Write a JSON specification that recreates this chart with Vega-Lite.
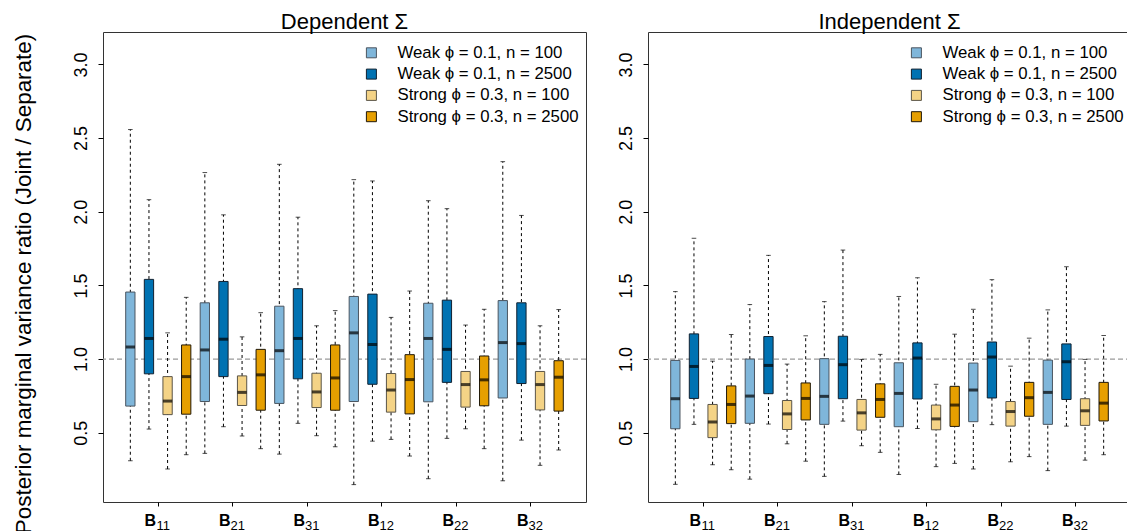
{
"$schema": "https://vega.github.io/schema/vega-lite/v6.json",
"padding": {"left": 11, "top": 10, "right": 0, "bottom": 0},
"spacing": 29,
"datasets": {"d": [
{"panel":"Dependent","grp":"B11","cond":"Weak ϕ = 0.1, n = 100","lo":0.310,"q1":0.681,"med":1.082,"q3":1.455,"hi":2.558},
{"panel":"Dependent","grp":"B11","cond":"Weak ϕ = 0.1, n = 2500","lo":0.525,"q1":0.900,"med":1.140,"q3":1.541,"hi":2.082},
{"panel":"Dependent","grp":"B11","cond":"Strong ϕ = 0.3, n = 100","lo":0.254,"q1":0.623,"med":0.715,"q3":0.881,"hi":1.178},
{"panel":"Dependent","grp":"B11","cond":"Strong ϕ = 0.3, n = 2500","lo":0.351,"q1":0.626,"med":0.881,"q3":1.096,"hi":1.419},
{"panel":"Dependent","grp":"B21","cond":"Weak ϕ = 0.1, n = 100","lo":0.360,"q1":0.712,"med":1.062,"q3":1.382,"hi":2.266},
{"panel":"Dependent","grp":"B21","cond":"Weak ϕ = 0.1, n = 2500","lo":0.541,"q1":0.881,"med":1.135,"q3":1.527,"hi":1.979},
{"panel":"Dependent","grp":"B21","cond":"Strong ϕ = 0.3, n = 100","lo":0.478,"q1":0.685,"med":0.774,"q3":0.886,"hi":1.151},
{"panel":"Dependent","grp":"B21","cond":"Strong ϕ = 0.3, n = 2500","lo":0.392,"q1":0.653,"med":0.893,"q3":1.066,"hi":1.315},
{"panel":"Dependent","grp":"B31","cond":"Weak ϕ = 0.1, n = 100","lo":0.355,"q1":0.699,"med":1.057,"q3":1.359,"hi":2.322},
{"panel":"Dependent","grp":"B31","cond":"Weak ϕ = 0.1, n = 2500","lo":0.564,"q1":0.866,"med":1.140,"q3":1.478,"hi":1.963},
{"panel":"Dependent","grp":"B31","cond":"Strong ϕ = 0.3, n = 100","lo":0.480,"q1":0.671,"med":0.777,"q3":0.904,"hi":1.226},
{"panel":"Dependent","grp":"B31","cond":"Strong ϕ = 0.3, n = 2500","lo":0.405,"q1":0.653,"med":0.872,"q3":1.096,"hi":1.329},
{"panel":"Dependent","grp":"B12","cond":"Weak ϕ = 0.1, n = 100","lo":0.148,"q1":0.712,"med":1.178,"q3":1.425,"hi":2.218},
{"panel":"Dependent","grp":"B12","cond":"Weak ϕ = 0.1, n = 2500","lo":0.443,"q1":0.829,"med":1.099,"q3":1.441,"hi":2.209},
{"panel":"Dependent","grp":"B12","cond":"Strong ϕ = 0.3, n = 100","lo":0.455,"q1":0.640,"med":0.790,"q3":0.902,"hi":1.283},
{"panel":"Dependent","grp":"B12","cond":"Strong ϕ = 0.3, n = 2500","lo":0.342,"q1":0.628,"med":0.861,"q3":1.030,"hi":1.462},
{"panel":"Dependent","grp":"B22","cond":"Weak ϕ = 0.1, n = 100","lo":0.188,"q1":0.710,"med":1.140,"q3":1.379,"hi":2.075},
{"panel":"Dependent","grp":"B22","cond":"Weak ϕ = 0.1, n = 2500","lo":0.462,"q1":0.842,"med":1.066,"q3":1.400,"hi":2.021},
{"panel":"Dependent","grp":"B22","cond":"Strong ϕ = 0.3, n = 100","lo":0.527,"q1":0.674,"med":0.827,"q3":0.916,"hi":1.231},
{"panel":"Dependent","grp":"B22","cond":"Strong ϕ = 0.3, n = 2500","lo":0.392,"q1":0.683,"med":0.859,"q3":1.021,"hi":1.338},
{"panel":"Dependent","grp":"B32","cond":"Weak ϕ = 0.1, n = 100","lo":0.174,"q1":0.736,"med":1.112,"q3":1.397,"hi":2.340},
{"panel":"Dependent","grp":"B32","cond":"Weak ϕ = 0.1, n = 2500","lo":0.450,"q1":0.834,"med":1.105,"q3":1.382,"hi":1.975},
{"panel":"Dependent","grp":"B32","cond":"Strong ϕ = 0.3, n = 100","lo":0.279,"q1":0.655,"med":0.827,"q3":0.916,"hi":1.226},
{"panel":"Dependent","grp":"B32","cond":"Strong ϕ = 0.3, n = 2500","lo":0.383,"q1":0.647,"med":0.877,"q3":0.989,"hi":1.336},
{"panel":"Independent","grp":"B11","cond":"Weak ϕ = 0.1, n = 100","lo":0.150,"q1":0.527,"med":0.731,"q3":0.991,"hi":1.458},
{"panel":"Independent","grp":"B11","cond":"Weak ϕ = 0.1, n = 2500","lo":0.557,"q1":0.733,"med":0.950,"q3":1.171,"hi":1.820},
{"panel":"Independent","grp":"B11","cond":"Strong ϕ = 0.3, n = 100","lo":0.283,"q1":0.467,"med":0.573,"q3":0.692,"hi":0.986},
{"panel":"Independent","grp":"B11","cond":"Strong ϕ = 0.3, n = 2500","lo":0.249,"q1":0.562,"med":0.692,"q3":0.818,"hi":1.167},
{"panel":"Independent","grp":"B21","cond":"Weak ϕ = 0.1, n = 100","lo":0.185,"q1":0.564,"med":0.749,"q3":1.000,"hi":1.370},
{"panel":"Independent","grp":"B21","cond":"Weak ϕ = 0.1, n = 2500","lo":0.559,"q1":0.765,"med":0.957,"q3":1.153,"hi":1.704},
{"panel":"Independent","grp":"B21","cond":"Strong ϕ = 0.3, n = 100","lo":0.425,"q1":0.522,"med":0.628,"q3":0.719,"hi":0.966},
{"panel":"Independent","grp":"B21","cond":"Strong ϕ = 0.3, n = 2500","lo":0.307,"q1":0.587,"med":0.733,"q3":0.838,"hi":1.158},
{"panel":"Independent","grp":"B31","cond":"Weak ϕ = 0.1, n = 100","lo":0.204,"q1":0.557,"med":0.747,"q3":1.003,"hi":1.390},
{"panel":"Independent","grp":"B31","cond":"Weak ϕ = 0.1, n = 2500","lo":0.579,"q1":0.731,"med":0.962,"q3":1.155,"hi":1.740},
{"panel":"Independent","grp":"B31","cond":"Strong ϕ = 0.3, n = 100","lo":0.412,"q1":0.518,"med":0.635,"q3":0.726,"hi":0.998},
{"panel":"Independent","grp":"B31","cond":"Strong ϕ = 0.3, n = 2500","lo":0.367,"q1":0.605,"med":0.726,"q3":0.832,"hi":1.032},
{"panel":"Independent","grp":"B12","cond":"Weak ϕ = 0.1, n = 100","lo":0.217,"q1":0.541,"med":0.767,"q3":0.975,"hi":1.425},
{"panel":"Independent","grp":"B12","cond":"Weak ϕ = 0.1, n = 2500","lo":0.529,"q1":0.729,"med":1.007,"q3":1.110,"hi":1.552},
{"panel":"Independent","grp":"B12","cond":"Strong ϕ = 0.3, n = 100","lo":0.270,"q1":0.520,"med":0.594,"q3":0.688,"hi":0.829},
{"panel":"Independent","grp":"B12","cond":"Strong ϕ = 0.3, n = 2500","lo":0.292,"q1":0.543,"med":0.688,"q3":0.815,"hi":1.169},
{"panel":"Independent","grp":"B22","cond":"Weak ϕ = 0.1, n = 100","lo":0.254,"q1":0.575,"med":0.790,"q3":0.973,"hi":1.338},
{"panel":"Independent","grp":"B22","cond":"Weak ϕ = 0.1, n = 2500","lo":0.555,"q1":0.736,"med":1.014,"q3":1.116,"hi":1.539},
{"panel":"Independent","grp":"B22","cond":"Strong ϕ = 0.3, n = 100","lo":0.303,"q1":0.545,"med":0.644,"q3":0.712,"hi":0.952},
{"panel":"Independent","grp":"B22","cond":"Strong ϕ = 0.3, n = 2500","lo":0.338,"q1":0.612,"med":0.738,"q3":0.842,"hi":1.142},
{"panel":"Independent","grp":"B32","cond":"Weak ϕ = 0.1, n = 100","lo":0.243,"q1":0.557,"med":0.774,"q3":0.993,"hi":1.334},
{"panel":"Independent","grp":"B32","cond":"Weak ϕ = 0.1, n = 2500","lo":0.545,"q1":0.726,"med":0.982,"q3":1.103,"hi":1.627},
{"panel":"Independent","grp":"B32","cond":"Strong ϕ = 0.3, n = 100","lo":0.314,"q1":0.550,"med":0.649,"q3":0.731,"hi":0.998},
{"panel":"Independent","grp":"B32","cond":"Strong ϕ = 0.3, n = 2500","lo":0.351,"q1":0.580,"med":0.701,"q3":0.842,"hi":1.160}
]},
"config": {
  "font": "Liberation Sans",
  "view": {"stroke": "#333333", "strokeWidth": 1},
  "axis": {"grid": false, "domain": false, "labelColor": "black", "tickColor": "black", "titleColor": "black", "labelFont": "Liberation Sans", "titleFont": "Liberation Sans", "titleFontWeight": "normal"},
  "legend": {"orient": "none", "legendX": 260, "legendY": 12.4, "symbolType": "square", "symbolSize": 100, "symbolStrokeColor": "#333333", "symbolStrokeWidth": 1, "symbolOpacity": 1, "labelFontSize": 16.8, "labelFont": "Liberation Sans", "labelColor": "black", "labelOffset": 17.7, "rowPadding": 3.3, "padding": 0, "labelLimit": 400}
},
"resolve": {"scale": {"fill": "independent", "stroke": "independent"}, "legend": {"fill": "independent", "stroke": "independent"}},
"hconcat": [
{
  "width": 483, "height": 470,
  "title": {"text": "Dependent Σ", "fontSize": 22, "fontWeight": "normal", "font": "Liberation Sans", "color": "black", "offset": -23.5, "baseline": "bottom", "anchor": "middle"},
  "data": {"name": "d"},
  "transform": [{"filter": "datum.panel === 'Dependent'"}],
  "resolve": {"axis": {"x": "independent", "y": "independent"}},
  "layer": [
    {"data": {"values": [{"k": 1}]}, "mark": {"type": "rule", "color": "#9a9a9a", "strokeDash": [5, 3], "strokeWidth": 1.4},
     "encoding": {"y": {"datum": 1, "type": "quantitative", "scale": {"domain": [0.03, 3.22], "nice": false, "zero": false}, "axis": null}}},
    {"mark": {"type": "rule", "color": "black", "strokeDash": [3, 3], "strokeWidth": 1},
     "encoding": {
       "x": {"field": "grp", "type": "nominal", "sort": ["B11","B21","B31","B12","B22","B32"], "scale": {"domain": ["B11","B21","B31","B12","B22","B32"], "paddingInner": 0, "paddingOuter": 0.242},
             "axis": {"orient": "bottom", "title": null, "labelExpr": "substring(datum.value, 1)", "labelAngle": 0, "labelFontSize": 13, "labelOffset": 5, "ticks": false, "tickSize": 0, "labelPadding": 27, "labelBaseline": "alphabetic", "labelAlign": "center"}},
       "xOffset": {"field": "cond", "type": "nominal", "scale": {"domain": ["Weak ϕ = 0.1, n = 100","Weak ϕ = 0.1, n = 2500","Strong ϕ = 0.3, n = 100","Strong ϕ = 0.3, n = 2500"], "paddingInner": 0, "paddingOuter": 0}},
       "y": {"field": "lo", "type": "quantitative", "scale": {"domain": [0.03, 3.22], "nice": false, "zero": false},
             "axis": {"title": "Posterior marginal variance ratio (Joint / Separate)", "titleFontSize": 22.4, "titleX": -72.5, "titleY": 251.5, "titleAngle": 270, "titleBaseline": "alphabetic", "titleAlign": "center", "values": [0.5, 1, 1.5, 2, 2.5, 3], "format": ".1f", "labelAngle": 270, "labelAlign": "center", "labelBaseline": "bottom", "labelFontSize": 18, "tickSize": 5, "labelPadding": 7.5}},
       "y2": {"field": "hi"}
     }},
    {"mark": {"type": "tick", "color": "black", "size": 4.6, "thickness": 1, "orient": "horizontal"},
     "encoding": {
       "x": {"field": "grp", "type": "nominal", "sort": ["B11","B21","B31","B12","B22","B32"], "axis": null},
       "xOffset": {"field": "cond", "type": "nominal"},
       "y": {"field": "lo", "type": "quantitative", "axis": null}
     }},
    {"mark": {"type": "tick", "color": "black", "size": 4.6, "thickness": 1, "orient": "horizontal"},
     "encoding": {
       "x": {"field": "grp", "type": "nominal", "sort": ["B11","B21","B31","B12","B22","B32"], "axis": null},
       "xOffset": {"field": "cond", "type": "nominal"},
       "y": {"field": "hi", "type": "quantitative", "axis": null}
     }},
    {"mark": {"type": "bar", "width": 9.3, "strokeWidth": 1},
     "encoding": {
       "x": {"field": "grp", "type": "nominal", "sort": ["B11","B21","B31","B12","B22","B32"],
             "axis": {"orient": "bottom", "title": null, "labelExpr": "'B'", "labelAngle": 0, "labelFontSize": 16, "labelFontWeight": "bold", "labelOffset": -8, "ticks": true, "tickSize": 4, "labelPadding": 19.5, "labelBaseline": "alphabetic", "labelAlign": "center"}},
       "xOffset": {"field": "cond", "type": "nominal"},
       "y": {"field": "q1", "type": "quantitative", "axis": null},
       "y2": {"field": "q3"},
       "fill": {"field": "cond", "type": "nominal", "scale": {"domain": ["Weak ϕ = 0.1, n = 100","Weak ϕ = 0.1, n = 2500","Strong ϕ = 0.3, n = 100","Strong ϕ = 0.3, n = 2500"], "range": ["#7fb6da", "#0072b2", "#f4d386", "#e69f00"]}, "legend": {"title": null}},
       "stroke": {"field": "cond", "type": "nominal", "scale": {"domain": ["Weak ϕ = 0.1, n = 100","Weak ϕ = 0.1, n = 2500","Strong ϕ = 0.3, n = 100","Strong ϕ = 0.3, n = 2500"], "range": ["#4a5560", "#102030", "#5a5548", "#201808"]}, "legend": null}
     }},
    {"mark": {"type": "tick", "color": "black", "size": 9.3, "thickness": 3, "orient": "horizontal"},
     "encoding": {
       "x": {"field": "grp", "type": "nominal", "sort": ["B11","B21","B31","B12","B22","B32"], "axis": null},
       "xOffset": {"field": "cond", "type": "nominal"},
       "y": {"field": "med", "type": "quantitative", "axis": null}
     }}
  ]
},
{
  "width": 483, "height": 470,
  "title": {"text": "Independent Σ", "fontSize": 22, "fontWeight": "normal", "font": "Liberation Sans", "color": "black", "offset": -23.5, "baseline": "bottom", "anchor": "middle"},
  "data": {"name": "d"},
  "transform": [{"filter": "datum.panel === 'Independent'"}],
  "resolve": {"axis": {"x": "independent", "y": "independent"}},
  "layer": [
    {"data": {"values": [{"k": 1}]}, "mark": {"type": "rule", "color": "#9a9a9a", "strokeDash": [5, 3], "strokeWidth": 1.4},
     "encoding": {"y": {"datum": 1, "type": "quantitative", "scale": {"domain": [0.03, 3.22], "nice": false, "zero": false}, "axis": null}}},
    {"mark": {"type": "rule", "color": "black", "strokeDash": [3, 3], "strokeWidth": 1},
     "encoding": {
       "x": {"field": "grp", "type": "nominal", "sort": ["B11","B21","B31","B12","B22","B32"], "scale": {"domain": ["B11","B21","B31","B12","B22","B32"], "paddingInner": 0, "paddingOuter": 0.242},
             "axis": {"orient": "bottom", "title": null, "labelExpr": "substring(datum.value, 1)", "labelAngle": 0, "labelFontSize": 13, "labelOffset": 5, "ticks": false, "tickSize": 0, "labelPadding": 27, "labelBaseline": "alphabetic", "labelAlign": "center"}},
       "xOffset": {"field": "cond", "type": "nominal", "scale": {"domain": ["Weak ϕ = 0.1, n = 100","Weak ϕ = 0.1, n = 2500","Strong ϕ = 0.3, n = 100","Strong ϕ = 0.3, n = 2500"], "paddingInner": 0, "paddingOuter": 0}},
       "y": {"field": "lo", "type": "quantitative", "scale": {"domain": [0.03, 3.22], "nice": false, "zero": false},
             "axis": {"title": null, "values": [0.5, 1, 1.5, 2, 2.5, 3], "format": ".1f", "labelAngle": 270, "labelAlign": "center", "labelBaseline": "bottom", "labelFontSize": 18, "tickSize": 5, "labelPadding": 7.5}},
       "y2": {"field": "hi"}
     }},
    {"mark": {"type": "tick", "color": "black", "size": 4.6, "thickness": 1, "orient": "horizontal"},
     "encoding": {
       "x": {"field": "grp", "type": "nominal", "sort": ["B11","B21","B31","B12","B22","B32"], "axis": null},
       "xOffset": {"field": "cond", "type": "nominal"},
       "y": {"field": "lo", "type": "quantitative", "axis": null}
     }},
    {"mark": {"type": "tick", "color": "black", "size": 4.6, "thickness": 1, "orient": "horizontal"},
     "encoding": {
       "x": {"field": "grp", "type": "nominal", "sort": ["B11","B21","B31","B12","B22","B32"], "axis": null},
       "xOffset": {"field": "cond", "type": "nominal"},
       "y": {"field": "hi", "type": "quantitative", "axis": null}
     }},
    {"mark": {"type": "bar", "width": 9.3, "strokeWidth": 1},
     "encoding": {
       "x": {"field": "grp", "type": "nominal", "sort": ["B11","B21","B31","B12","B22","B32"],
             "axis": {"orient": "bottom", "title": null, "labelExpr": "'B'", "labelAngle": 0, "labelFontSize": 16, "labelFontWeight": "bold", "labelOffset": -8, "ticks": true, "tickSize": 4, "labelPadding": 19.5, "labelBaseline": "alphabetic", "labelAlign": "center"}},
       "xOffset": {"field": "cond", "type": "nominal"},
       "y": {"field": "q1", "type": "quantitative", "axis": null},
       "y2": {"field": "q3"},
       "fill": {"field": "cond", "type": "nominal", "scale": {"domain": ["Weak ϕ = 0.1, n = 100","Weak ϕ = 0.1, n = 2500","Strong ϕ = 0.3, n = 100","Strong ϕ = 0.3, n = 2500"], "range": ["#7fb6da", "#0072b2", "#f4d386", "#e69f00"]}, "legend": {"title": null}},
       "stroke": {"field": "cond", "type": "nominal", "scale": {"domain": ["Weak ϕ = 0.1, n = 100","Weak ϕ = 0.1, n = 2500","Strong ϕ = 0.3, n = 100","Strong ϕ = 0.3, n = 2500"], "range": ["#4a5560", "#102030", "#5a5548", "#201808"]}, "legend": null}
     }},
    {"mark": {"type": "tick", "color": "black", "size": 9.3, "thickness": 3, "orient": "horizontal"},
     "encoding": {
       "x": {"field": "grp", "type": "nominal", "sort": ["B11","B21","B31","B12","B22","B32"], "axis": null},
       "xOffset": {"field": "cond", "type": "nominal"},
       "y": {"field": "med", "type": "quantitative", "axis": null}
     }}
  ]
}
]
}
